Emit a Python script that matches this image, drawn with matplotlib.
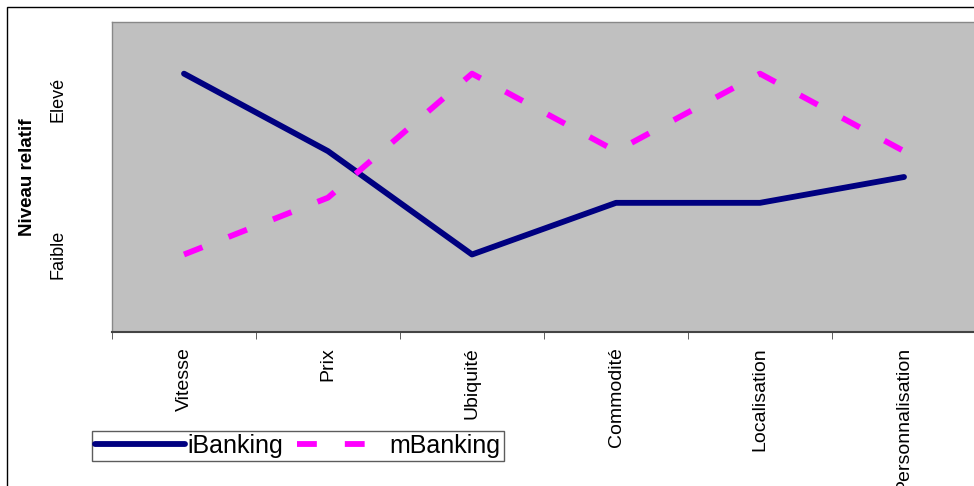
import matplotlib.pyplot as plt
from matplotlib.patches import Rectangle
from matplotlib.ticker import FixedLocator

plt.rcParams['font.family'] = ['Liberation Sans', 'DejaVu Sans']

# data (relative level, 0 = low, 6 = high)
categories = ['Vitesse', 'Prix', 'Ubiquité', 'Commodité', 'Localisation', 'Personnalisation']
ibanking = [5.0, 3.5, 1.5, 2.5, 2.5, 3.0]
mbanking = [1.5, 2.6, 5.0, 3.5, 5.0, 3.5]
level_ticks = [1.5, 4.5]
level_labels = ['Faible', 'Elevé']

fig = plt.figure(figsize=(9.74, 4.86), dpi=100)
ax = fig.add_axes([112 / 974, 1 - 332 / 486, 864 / 974, 310 / 486])
ax.set_facecolor('#c0c0c0')

x = list(range(len(categories)))
ax.plot(x, ibanking, color='#000080', lw=4.2, solid_capstyle='round', label='iBanking')
ax.plot(x, mbanking, color='#ff00ff', lw=4.2, dashes=(3.4, 4.8), dash_capstyle='butt',
        label='mBanking')

ax.set_xlim(-0.5, len(categories) - 0.5)
ax.set_ylim(0, 6)
ax.set_xticks(x)
ax.set_xticklabels(categories, rotation=90, va='top', fontsize=14)
ax.xaxis.set_minor_locator(FixedLocator([i - 0.5 for i in range(len(categories) + 1)]))
ax.tick_params(axis='x', which='major', length=0, pad=11)
ax.tick_params(axis='x', which='minor', length=5, color='#444444', direction='out')

ax.set_yticks(level_ticks)
ax.set_yticklabels(level_labels, rotation=90, va='center', fontsize=13)
ax.tick_params(axis='y', length=0, pad=33)
ax.set_ylabel('Niveau relatif', fontweight='bold', fontsize=13.5)
ax.yaxis.set_label_coords(-76 / 864, 0.5)

for side in ['top', 'left', 'right']:
    ax.spines[side].set_color('#888888')
    ax.spines[side].set_linewidth(1)
ax.spines['bottom'].set_color('#444444')
ax.spines['bottom'].set_linewidth(1.5)

# outer chart frame
fig.patches.append(Rectangle((7 / 974, -0.1), 1.1, 1 - 7 / 486 + 0.1, transform=fig.transFigure,
                             fill=False, edgecolor='black', lw=1))

leg = fig.legend(loc='center left', bbox_to_anchor=(92 / 974, 1 - 446 / 486), ncol=2,
                 fontsize=18, frameon=True, fancybox=False, edgecolor='#333333',
                 handlelength=3.6, handletextpad=0.1, columnspacing=0.55,
                 borderpad=0.12, borderaxespad=0)
leg.get_frame().set_linewidth(1)

fig.savefig('out.png', dpi=100)
